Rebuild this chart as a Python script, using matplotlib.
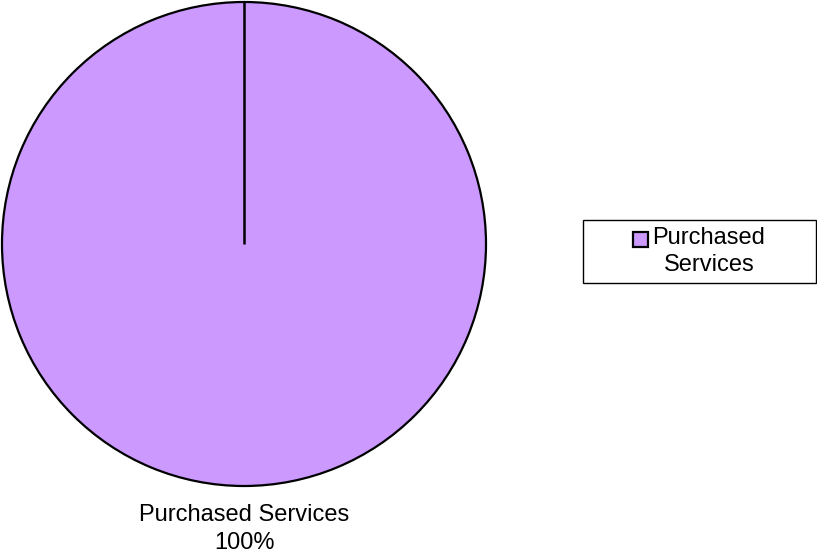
import matplotlib.pyplot as plt
from matplotlib.patches import Rectangle
import numpy as np

plt.rcParams['font.family'] = ['Liberation Sans', 'DejaVu Sans']

labels = ["Purchased Services"]
legend_labels = ["Purchased\nServices"]
values = [100.0]
colors = ["#CC99FF"]

W, H = 817, 554
fig = plt.figure(figsize=(W / 100, H / 100), dpi=100)

# pie axes: circle centred at (244, 244) px with radius 242 px
cx, cy, r = 244, 244, 242
ax = fig.add_axes([(cx - r) / W, 1 - (cy + r) / H, 2 * r / W, 2 * r / H])
wedges, _ = ax.pie(values, colors=colors, startangle=90, counterclock=False,
                   radius=1, wedgeprops=dict(edgecolor="black", linewidth=1.6,
                                             clip_on=False))
ax.set_xlim(-1, 1)
ax.set_ylim(-1, 1)
ax.set_aspect("equal")
ax.axis("off")

# boundary line at the start angle of the slice
theta = np.deg2rad(90)
ax.plot([0, np.cos(theta)], [0, np.sin(theta)], color="black", lw=1.8,
        solid_capstyle="butt", clip_on=False)

total = sum(values)
for lab, v in zip(labels, values):
    fig.text(cx / W, 1 - 504 / H, f"{lab}\n{v / total * 100:.0f}%",
             ha="center", va="top", fontsize=17, linespacing=1.38,
             multialignment="center")

# legend box, swatch and label
fig.add_artist(Rectangle((583 / W, 1 - 283 / H), 233 / W, 63 / H,
                         transform=fig.transFigure, facecolor="white",
                         edgecolor="black", linewidth=1.0))
for i, (lab, c) in enumerate(zip(legend_labels, colors)):
    fig.add_artist(Rectangle((633 / W, 1 - 247 / H), 15 / W, 15 / H,
                             transform=fig.transFigure, facecolor=c,
                             edgecolor="black", linewidth=1.6))
    fig.text(709 / W, 1 - 227 / H, lab, ha="center", va="top", fontsize=17,
             linespacing=1.3, multialignment="center")

fig.savefig("out.png", dpi=100)
